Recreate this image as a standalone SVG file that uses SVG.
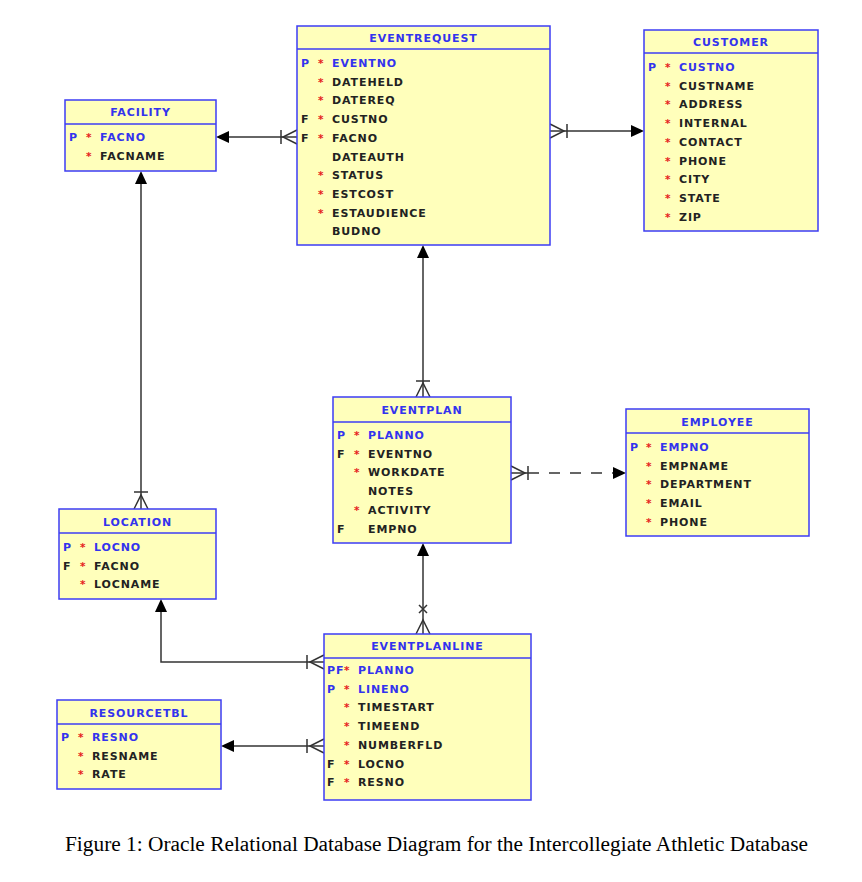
<svg xmlns="http://www.w3.org/2000/svg" width="862" height="882" viewBox="0 0 862 882">
<style>
.box{fill:#FFFFBB;stroke:#3C3CF5;stroke-width:1.5}
.sep{stroke:#3C3CF5;stroke-width:1.5}
.t{font-family:"DejaVu Sans",sans-serif;font-weight:bold;font-size:11px;letter-spacing:0.9px;fill:#222}
.k{fill:#3333EE}
.title{font-family:"DejaVu Sans",sans-serif;font-weight:bold;font-size:11px;letter-spacing:0.9px;fill:#3333EE;text-anchor:middle}
.ast{font-family:"DejaVu Sans",sans-serif;font-weight:bold;font-size:10.5px;fill:#E52020}
.ln{fill:none;stroke:#333;stroke-width:1.5}
.dash{stroke-dasharray:11 10}
.ah{fill:#000;stroke:none}
.cap{font-family:"Liberation Serif",serif;font-size:20.5px;fill:#000}
</style>
<rect width="862" height="882" fill="#fff"/>

<g id="connectors">
  <!-- EVENTREQUEST -> FACILITY -->
  <path class="ln" d="M297,137 H229"/>
  <path class="ah" d="M216,137 L229,131 L229,143 Z"/>
  <path class="ln" d="M281,130 V144 M297,130 L283,137 L297,144"/>
  <!-- EVENTREQUEST -> CUSTOMER -->
  <path class="ln" d="M550,131 H632"/>
  <path class="ah" d="M644,131 L631,125 L631,137 Z"/>
  <path class="ln" d="M567,124 V138 M550,124 L564,131 L550,138"/>
  <!-- EVENTPLAN -> EVENTREQUEST -->
  <path class="ln" d="M423,397 V258"/>
  <path class="ah" d="M423,245 L417,258 L429,258 Z"/>
  <path class="ln" d="M416,381 H430 M416,397 L423,383 L430,397"/>
  <!-- EVENTPLAN -> EMPLOYEE (dashed) -->
  <path class="ln" d="M511,473 H528"/>
  <path class="ln dash" d="M528,473 H613"/>
  <path class="ah" d="M626,473 L613,467 L613,479 Z"/>
  <path class="ln" d="M528,466 V480 M511,466 L525,473 L511,480"/>
  <!-- LOCATION -> FACILITY -->
  <path class="ln" d="M141,509 V184"/>
  <path class="ah" d="M141,171 L135,184 L147,184 Z"/>
  <path class="ln" d="M134,492 H148 M134,509 L141,495 L148,509"/>
  <!-- EVENTPLANLINE -> LOCATION -->
  <path class="ln" d="M324,662 H161 V612"/>
  <path class="ah" d="M161,599 L155,612 L167,612 Z"/>
  <path class="ln" d="M307,655 V669 M324,655 L310,662 L324,669"/>
  <!-- EVENTPLANLINE -> RESOURCETBL -->
  <path class="ln" d="M324,746 H234"/>
  <path class="ah" d="M221,746 L234,740 L234,752 Z"/>
  <path class="ln" d="M307,739 V753 M324,739 L310,746 L324,753"/>
  <!-- EVENTPLANLINE -> EVENTPLAN -->
  <path class="ln" d="M423,634 V556"/>
  <path class="ah" d="M423,543 L417,556 L429,556 Z"/>
  <path class="ln" d="M419,605 L427,613 M427,605 L419,613 M416,634 L423,620 L430,634"/>
</g>

<g id="FACILITY">
  <rect class="box" x="65" y="100" width="151" height="71"/>
  <line class="sep" x1="65" y1="124" x2="216" y2="124"/>
  <text class="title" x="140.5" y="116">FACILITY</text>
  <text class="t k" x="69" y="141">P</text><text class="ast" x="86" y="141">*</text><text class="t k" x="100" y="141">FACNO</text>
  <text class="ast" x="86" y="160">*</text><text class="t" x="100" y="160">FACNAME</text>
</g>

<g id="EVENTREQUEST">
  <rect class="box" x="297" y="26" width="253" height="219"/>
  <line class="sep" x1="297" y1="49" x2="550" y2="49"/>
  <text class="title" x="423.5" y="42">EVENTREQUEST</text>
  <text class="t k" x="301" y="67">P</text><text class="ast" x="318" y="67">*</text><text class="t k" x="332" y="67">EVENTNO</text>
  <text class="ast" x="318" y="85.7">*</text><text class="t" x="332" y="85.7">DATEHELD</text>
  <text class="ast" x="318" y="104.4">*</text><text class="t" x="332" y="104.4">DATEREQ</text>
  <text class="t" x="301" y="123.1">F</text><text class="ast" x="318" y="123.1">*</text><text class="t" x="332" y="123.1">CUSTNO</text>
  <text class="t" x="301" y="141.8">F</text><text class="ast" x="318" y="141.8">*</text><text class="t" x="332" y="141.8">FACNO</text>
  <text class="t" x="332" y="160.5">DATEAUTH</text>
  <text class="ast" x="318" y="179.2">*</text><text class="t" x="332" y="179.2">STATUS</text>
  <text class="ast" x="318" y="197.9">*</text><text class="t" x="332" y="197.9">ESTCOST</text>
  <text class="ast" x="318" y="216.6">*</text><text class="t" x="332" y="216.6">ESTAUDIENCE</text>
  <text class="t" x="332" y="235.3">BUDNO</text>
</g>

<g id="CUSTOMER">
  <rect class="box" x="644" y="30" width="174" height="201"/>
  <line class="sep" x1="644" y1="53" x2="818" y2="53"/>
  <text class="title" x="731" y="46">CUSTOMER</text>
  <text class="t k" x="648" y="71">P</text><text class="ast" x="665" y="71">*</text><text class="t k" x="679" y="71">CUSTNO</text>
  <text class="ast" x="665" y="89.7">*</text><text class="t" x="679" y="89.7">CUSTNAME</text>
  <text class="ast" x="665" y="108.4">*</text><text class="t" x="679" y="108.4">ADDRESS</text>
  <text class="ast" x="665" y="127.1">*</text><text class="t" x="679" y="127.1">INTERNAL</text>
  <text class="ast" x="665" y="145.8">*</text><text class="t" x="679" y="145.8">CONTACT</text>
  <text class="ast" x="665" y="164.5">*</text><text class="t" x="679" y="164.5">PHONE</text>
  <text class="ast" x="665" y="183.2">*</text><text class="t" x="679" y="183.2">CITY</text>
  <text class="ast" x="665" y="201.9">*</text><text class="t" x="679" y="201.9">STATE</text>
  <text class="ast" x="665" y="220.6">*</text><text class="t" x="679" y="220.6">ZIP</text>
</g>

<g id="EVENTPLAN">
  <rect class="box" x="333" y="397" width="178" height="146"/>
  <line class="sep" x1="333" y1="422" x2="511" y2="422"/>
  <text class="title" x="422" y="414">EVENTPLAN</text>
  <text class="t k" x="337" y="439">P</text><text class="ast" x="354" y="439">*</text><text class="t k" x="368" y="439">PLANNO</text>
  <text class="t" x="337" y="457.7">F</text><text class="ast" x="354" y="457.7">*</text><text class="t" x="368" y="457.7">EVENTNO</text>
  <text class="ast" x="354" y="476.4">*</text><text class="t" x="368" y="476.4">WORKDATE</text>
  <text class="t" x="368" y="495.1">NOTES</text>
  <text class="ast" x="354" y="513.8">*</text><text class="t" x="368" y="513.8">ACTIVITY</text>
  <text class="t" x="337" y="532.5">F</text><text class="t" x="368" y="532.5">EMPNO</text>
</g>

<g id="EMPLOYEE">
  <rect class="box" x="626" y="409" width="183" height="127"/>
  <line class="sep" x1="626" y1="433" x2="809" y2="433"/>
  <text class="title" x="717.5" y="426">EMPLOYEE</text>
  <text class="t k" x="630" y="451">P</text><text class="ast" x="646" y="451">*</text><text class="t k" x="660" y="451">EMPNO</text>
  <text class="ast" x="646" y="469.7">*</text><text class="t" x="660" y="469.7">EMPNAME</text>
  <text class="ast" x="646" y="488.4">*</text><text class="t" x="660" y="488.4">DEPARTMENT</text>
  <text class="ast" x="646" y="507.1">*</text><text class="t" x="660" y="507.1">EMAIL</text>
  <text class="ast" x="646" y="525.8">*</text><text class="t" x="660" y="525.8">PHONE</text>
</g>

<g id="LOCATION">
  <rect class="box" x="59" y="509" width="157" height="90"/>
  <line class="sep" x1="59" y1="533" x2="216" y2="533"/>
  <text class="title" x="137.5" y="526">LOCATION</text>
  <text class="t k" x="63" y="551">P</text><text class="ast" x="80" y="551">*</text><text class="t k" x="94" y="551">LOCNO</text>
  <text class="t" x="63" y="569.7">F</text><text class="ast" x="80" y="569.7">*</text><text class="t" x="94" y="569.7">FACNO</text>
  <text class="ast" x="80" y="588.4">*</text><text class="t" x="94" y="588.4">LOCNAME</text>
</g>

<g id="EVENTPLANLINE">
  <rect class="box" x="324" y="634" width="207" height="166"/>
  <line class="sep" x1="324" y1="658" x2="531" y2="658"/>
  <text class="title" x="427.5" y="650">EVENTPLANLINE</text>
  <text class="t k" x="327" y="674" letter-spacing="0">PF</text><text class="ast" x="344" y="674">*</text><text class="t k" x="358" y="674">PLANNO</text>
  <text class="t k" x="327" y="692.7">P</text><text class="ast" x="344" y="692.7">*</text><text class="t k" x="358" y="692.7">LINENO</text>
  <text class="ast" x="344" y="711.4">*</text><text class="t" x="358" y="711.4">TIMESTART</text>
  <text class="ast" x="344" y="730.1">*</text><text class="t" x="358" y="730.1">TIMEEND</text>
  <text class="ast" x="344" y="748.8">*</text><text class="t" x="358" y="748.8">NUMBERFLD</text>
  <text class="t" x="327" y="767.5">F</text><text class="ast" x="344" y="767.5">*</text><text class="t" x="358" y="767.5">LOCNO</text>
  <text class="t" x="327" y="786.2">F</text><text class="ast" x="344" y="786.2">*</text><text class="t" x="358" y="786.2">RESNO</text>
</g>

<g id="RESOURCETBL">
  <rect class="box" x="57" y="700" width="164" height="89"/>
  <line class="sep" x1="57" y1="724" x2="221" y2="724"/>
  <text class="title" x="139" y="717">RESOURCETBL</text>
  <text class="t k" x="61" y="741">P</text><text class="ast" x="78" y="741">*</text><text class="t k" x="92" y="741">RESNO</text>
  <text class="ast" x="78" y="759.7">*</text><text class="t" x="92" y="759.7">RESNAME</text>
  <text class="ast" x="78" y="778.4">*</text><text class="t" x="92" y="778.4">RATE</text>
</g>

<text class="cap" x="65" y="851" textLength="743" lengthAdjust="spacingAndGlyphs">Figure 1: Oracle Relational Database Diagram for the Intercollegiate Athletic Database</text>
</svg>
